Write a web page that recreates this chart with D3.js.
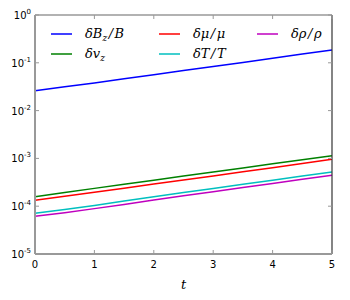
<!DOCTYPE html>
<html>
<head>
<meta charset="utf-8">
<script src="https://cdn.jsdelivr.net/npm/d3@7"></script>
<style>
  body { margin: 0; background: #fff; }
  text { font-family: "DejaVu Sans", sans-serif; }
  .math { font-family: "DejaVu Serif", serif; font-style: italic; }
</style>
</head>
<body>
<div id="chart"></div>
<script>
// data
const tVals = [0, 0.5, 1, 1.5, 2, 2.5, 3, 3.5, 4, 4.5, 5];
const dBz  = [0.026, 0.0315, 0.038, 0.0463, 0.0565, 0.0688, 0.0835, 0.102, 0.124, 0.152, 0.185];
const dVz  = [1.58e-4, 1.93e-4, 2.36e-4, 2.87e-4, 3.49e-4, 4.26e-4, 5.2e-4, 6.32e-4, 7.7e-4, 9.4e-4, 1.14e-3];
const dMu  = [1.33e-4, 1.61e-4, 1.95e-4, 2.38e-4, 2.9e-4, 3.53e-4, 4.3e-4, 5.25e-4, 6.4e-4, 7.8e-4, 9.57e-4];
const dT   = [7.1e-5, 8.5e-5, 1.04e-4, 1.28e-4, 1.58e-4, 1.94e-4, 2.34e-4, 2.88e-4, 3.48e-4, 4.27e-4, 5.19e-4];
const dRho = [6.16e-5, 7.3e-5, 8.9e-5, 1.09e-4, 1.35e-4, 1.65e-4, 2.0e-4, 2.45e-4, 2.98e-4, 3.65e-4, 4.43e-4];
const xTicks = [0, 1, 2, 3, 4, 5];
const yExps = [0, -1, -2, -3, -4, -5];

// label parts: [numerator base, subscript, denominator]
const series = [
  { values: dBz,  color: "#0000ff", label: ["δB", "z", "B"] },
  { values: dVz,  color: "#008000", label: ["δv", "z", null] },
  { values: dMu,  color: "#ff0000", label: ["δμ", "", "μ"] },
  { values: dT,   color: "#00bfbf", label: ["δT", "", "T"] },
  { values: dRho, color: "#bf00bf", label: ["δρ", "", "ρ"] }
];

const width = 350, height = 300;
const margin = { top: 15, right: 18, bottom: 46, left: 35 };

const svg = d3.select("#chart").append("svg")
  .attr("width", width)
  .attr("height", height);

const x = d3.scaleLinear()
  .domain([0, 5])
  .range([margin.left, width - margin.right]);

const y = d3.scaleLog()
  .domain([1e-5, 1])
  .range([height - margin.bottom, margin.top]);

// lines
const line = d3.line()
  .x((d, i) => x(tVals[i]))
  .y(d => y(d));

series.forEach(s => {
  svg.append("path")
    .datum(s.values)
    .attr("fill", "none")
    .attr("stroke", s.color)
    .attr("stroke-width", 1.5)
    .attr("d", line);
});

// frame
const x0 = x(0), x1 = x(5), y0 = y(1e-5), y1 = y(1);
svg.append("line").attr("x1", x0).attr("x2", x1).attr("y1", y1).attr("y2", y1)
  .attr("stroke", "#999").attr("stroke-width", 1.5);
svg.append("line").attr("x1", x1).attr("x2", x1).attr("y1", y1).attr("y2", y0)
  .attr("stroke", "#333").attr("stroke-width", 1.2);
svg.append("line").attr("x1", x0).attr("x2", x0).attr("y1", y1).attr("y2", y0)
  .attr("stroke", "#999").attr("stroke-width", 2);
svg.append("line").attr("x1", x0).attr("x2", x1).attr("y1", y0).attr("y2", y0)
  .attr("stroke", "#999").attr("stroke-width", 2);

// ticks (inward)
const tickLen = 4;
xTicks.forEach(t => {
  svg.append("line").attr("x1", x(t)).attr("x2", x(t))
    .attr("y1", y0).attr("y2", y0 - tickLen).attr("stroke", "#999");
  svg.append("line").attr("x1", x(t)).attr("x2", x(t))
    .attr("y1", y1).attr("y2", y1 + tickLen).attr("stroke", "#999");
  svg.append("text")
    .attr("x", x(t)).attr("y", y0 + 14)
    .attr("text-anchor", "middle")
    .attr("font-size", 10)
    .attr("fill", "#000")
    .text(t);
});

yExps.forEach(e => {
  const yy = y(Math.pow(10, e));
  svg.append("line").attr("x1", x0).attr("x2", x0 + tickLen)
    .attr("y1", yy).attr("y2", yy).attr("stroke", "#999");
  svg.append("line").attr("x1", x1).attr("x2", x1 - tickLen)
    .attr("y1", yy).attr("y2", yy).attr("stroke", "#999");
  const lab = svg.append("text")
    .attr("x", x0 - 4).attr("y", yy + 4)
    .attr("text-anchor", "end")
    .attr("font-size", 10)
    .attr("fill", "#000");
  lab.append("tspan").text("10");
  lab.append("tspan").attr("dy", -5).attr("font-size", 7).text(e);
});

// axis label
svg.append("text")
  .attr("class", "math")
  .attr("x", (x0 + x1) / 2).attr("y", 289)
  .attr("text-anchor", "middle")
  .attr("font-size", 13)
  .text("t");

// legend, 3 columns filled column first
const legCols = [51, 159, 257];
const legRows = [34, 54];
series.forEach((s, i) => {
  const col = Math.floor(i / 2), row = i % 2;
  const lx = legCols[col], ly = legRows[row];
  svg.append("line")
    .attr("x1", lx).attr("x2", lx + 21)
    .attr("y1", ly).attr("y2", ly)
    .attr("stroke", s.color).attr("stroke-width", 1.5);
  const txt = svg.append("text")
    .attr("class", "math")
    .attr("x", lx + 34).attr("y", ly + 4)
    .attr("font-size", 13)
    .attr("fill", "#000");
  const [base, sub, den] = s.label;
  txt.append("tspan").text(base);
  let dyBack = 0;
  if (sub) {
    txt.append("tspan").attr("dy", 3).attr("font-size", 9).text(sub);
    dyBack = -3;
  }
  if (den) {
    txt.append("tspan").attr("dx", 1.5).attr("dy", dyBack).text("/");
    txt.append("tspan").attr("dx", 1.5).text(den);
  }
});
</script>
</body>
</html>
